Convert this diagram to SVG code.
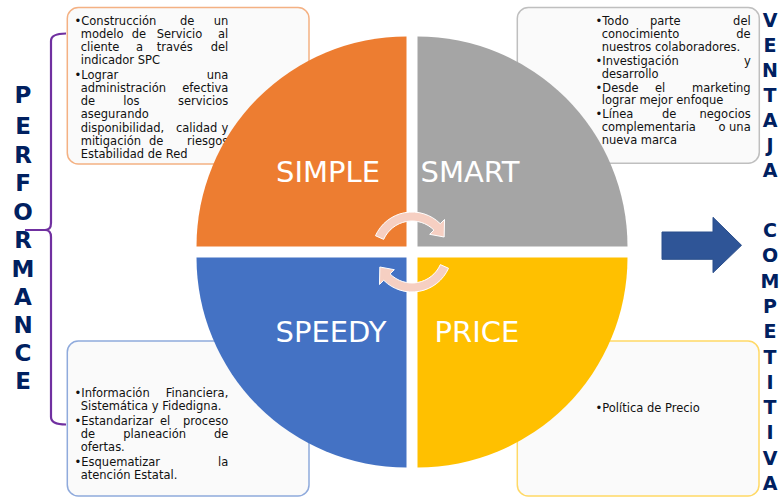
<svg xmlns="http://www.w3.org/2000/svg" width="779" height="497" viewBox="0 0 779 497">
  <style>
    .box { fill: #FAFAFA; stroke-width: 1.5; }
    .t { font-family: "DejaVu Sans", Verdana, sans-serif; font-size: 11.5px; fill: #111111; }
    .e { text-anchor: end; }
    .lbl { font-family: "DejaVu Sans", Verdana, sans-serif; font-size: 29px; fill: #FFFFFF; text-anchor: middle; }
    .vl { font-family: "DejaVu Sans", Verdana, sans-serif; font-weight: bold; fill: #002060; text-anchor: middle; }
    .cyc { fill: #F6CFC2; stroke: #FFFFFF; stroke-width: 1; }
  </style>

  <!-- text boxes behind the quadrants -->
  <g id="box-simple">
    <rect class="box" x="67.3" y="7.5" width="241.7" height="156.5" rx="11" stroke="#F4B183"/>
    <text class="t" x="74.5" y="24.7">•Construcción</text>
    <text class="t" x="180" y="24.7">de</text>
    <text class="t e" x="228.3" y="24.7">un</text>
    <text class="t" x="80.7" y="37.9">modelo</text>
    <text class="t" x="131.7" y="37.9">de</text>
    <text class="t" x="156.7" y="37.9">Servicio</text>
    <text class="t e" x="228.3" y="37.9">al</text>
    <text class="t" x="80.7" y="51.1">cliente</text>
    <text class="t" x="136" y="51.1">a</text>
    <text class="t" x="156.7" y="51.1">través</text>
    <text class="t e" x="228.3" y="51.1">del</text>
    <text class="t" x="80.7" y="64.3">indicador SPC</text>
    <text class="t" x="74.5" y="78.8">•Lograr</text>
    <text class="t e" x="228.3" y="78.8">una</text>
    <text class="t" x="80.7" y="92">administración</text>
    <text class="t e" x="228.3" y="92">efectiva</text>
    <text class="t" x="80.7" y="105.2">de</text>
    <text class="t" x="123.3" y="105.2">los</text>
    <text class="t e" x="228.3" y="105.2">servicios</text>
    <text class="t" x="80.7" y="118.4">asegurando</text>
    <text class="t" x="80.7" y="131.6">disponibilidad,</text>
    <text class="t" x="176" y="131.6">calidad</text>
    <text class="t e" x="228.3" y="131.6">y</text>
    <text class="t" x="80.7" y="144.8">mitigación</text>
    <text class="t" x="149" y="144.8">de</text>
    <text class="t e" x="228.3" y="144.8">riesgos</text>
    <text class="t" x="80.7" y="158">Estabilidad de Red</text>
  </g>

  <g id="box-smart">
    <rect class="box" x="517.3" y="7.5" width="242" height="155.8" rx="11" stroke="#BFBFBF"/>
    <text class="t" x="595.5" y="24.7">•Todo</text>
    <text class="t" x="650" y="24.7">parte</text>
    <text class="t e" x="750.7" y="24.7">del</text>
    <text class="t" x="601.7" y="37.7">conocimiento</text>
    <text class="t e" x="750.7" y="37.7">de</text>
    <text class="t" x="601.7" y="50.7">nuestros colaboradores.</text>
    <text class="t" x="595.5" y="65">•Investigación</text>
    <text class="t e" x="750.7" y="65">y</text>
    <text class="t" x="601.7" y="78">desarrollo</text>
    <text class="t" x="595.5" y="91.5">•Desde</text>
    <text class="t" x="655" y="91.5">el</text>
    <text class="t e" x="750.7" y="91.5">marketing</text>
    <text class="t" x="601.7" y="104.3">lograr mejor enfoque</text>
    <text class="t" x="595.5" y="118">•Línea</text>
    <text class="t" x="662" y="118">de</text>
    <text class="t e" x="750.7" y="118">negocios</text>
    <text class="t" x="601.7" y="131">complementaria</text>
    <text class="t" x="718.5" y="131">o</text>
    <text class="t e" x="750.7" y="131">una</text>
    <text class="t" x="601.7" y="144">nueva marca</text>
  </g>

  <g id="box-speedy">
    <rect class="box" x="67.3" y="341" width="241.7" height="155" rx="11" stroke="#8FAADC"/>
    <text class="t" x="74.5" y="397.3">•Información</text>
    <text class="t e" x="228.3" y="397.3">Financiera,</text>
    <text class="t" x="80.7" y="410">Sistemática y Fidedigna.</text>
    <text class="t" x="74.5" y="424.7">•Estandarizar</text>
    <text class="t" x="160" y="424.7">el</text>
    <text class="t e" x="228.3" y="424.7">proceso</text>
    <text class="t" x="80.7" y="437.7">de</text>
    <text class="t" x="123.3" y="437.7">planeación</text>
    <text class="t e" x="228.3" y="437.7">de</text>
    <text class="t" x="80.7" y="450.7">ofertas.</text>
    <text class="t" x="74.5" y="466">•Esquematizar</text>
    <text class="t e" x="228.3" y="466">la</text>
    <text class="t" x="80.7" y="479">atención Estatal.</text>
  </g>

  <g id="box-price">
    <rect class="box" x="517.3" y="341" width="241.7" height="155" rx="11" stroke="#FFD966"/>
    <text class="t" x="595.5" y="412.3">•Política de Precio</text>
  </g>

  <!-- four quarter-circle quadrants -->
  <g id="q-simple">
    <path d="M406.5,246.5 L196.5,246.5 A210,210 0 0 1 406.5,36.5 Z" fill="#ED7D31"/>
    <text class="lbl" x="328" y="182">SIMPLE</text>
  </g>
  <g id="q-smart">
    <path d="M417.5,246.5 L417.5,36.5 A210,210 0 0 1 627.5,246.5 Z" fill="#A5A5A5"/>
    <text class="lbl" x="470" y="182">SMART</text>
  </g>
  <g id="q-speedy">
    <path d="M406.5,257.5 L406.5,467.5 A210,210 0 0 1 196.5,257.5 Z" fill="#4472C4"/>
    <text class="lbl" x="331" y="341.7">SPEEDY</text>
  </g>
  <g id="q-price">
    <path d="M417.5,257.5 L627.5,257.5 A210,210 0 0 1 417.5,467.5 Z" fill="#FFC000"/>
    <text class="lbl" x="477" y="341.7">PRICE</text>
  </g>

  <!-- connectors: cycle arrows, brace and outcome arrow -->
  <g id="connectors">
    <path class="cyc" d="M375.46,235.73 A40,40 0 0 1 440.28,223.72 L444.53,219.47 L444.17,237 L429.68,234.32 L433.92,230.08 A31,31 0 0 0 383.68,239.39 Z"/>
    <path class="cyc" d="M448.54,268.27 A40,40 0 0 1 383.72,280.28 L379.47,284.53 L379.83,267 L394.32,269.68 L390.08,273.92 A31,31 0 0 0 440.32,264.61 Z"/>
    <path d="M66,33.5 Q51,33.5 51,41 V223 Q51,230 45,230 H25 M45,230 Q51,230 51,237 V417 Q51,424.5 66,424.5" fill="none" stroke="#7030A0" stroke-width="2.2"/>
    <path d="M662,232 H713 V217.3 L741.5,245.3 L713,272.7 V259.3 H662 Z" fill="#2F5597" stroke="#2B4F8C" stroke-width="1"/>
  </g>

  <!-- vertical headings -->
  <g id="performance" class="vl" font-size="23">
    <text x="23" y="102.5">P</text>
    <text x="23" y="133.5">E</text>
    <text x="23" y="162.5">R</text>
    <text x="23" y="191">F</text>
    <text x="23" y="219.5">O</text>
    <text x="23" y="248">R</text>
    <text x="23" y="276.5">M</text>
    <text x="23" y="305">A</text>
    <text x="23" y="333">N</text>
    <text x="23" y="360.5">C</text>
    <text x="23" y="388.5">E</text>
  </g>

  <g id="ventaja-competitiva" class="vl" font-size="19">
    <text x="770" y="27">V</text>
    <text x="770" y="52">E</text>
    <text x="770" y="77">N</text>
    <text x="770" y="102">T</text>
    <text x="770" y="127">A</text>
    <text x="770" y="152">J</text>
    <text x="770" y="177">A</text>
    <text x="770" y="237">C</text>
    <text x="770" y="262.3">O</text>
    <text x="770" y="287.6">M</text>
    <text x="770" y="312.9">P</text>
    <text x="770" y="338.2">E</text>
    <text x="770" y="363.5">T</text>
    <text x="770" y="388.8">I</text>
    <text x="770" y="414.1">T</text>
    <text x="770" y="439.4">I</text>
    <text x="770" y="464.7">V</text>
    <text x="770" y="490">A</text>
  </g>
</svg>
